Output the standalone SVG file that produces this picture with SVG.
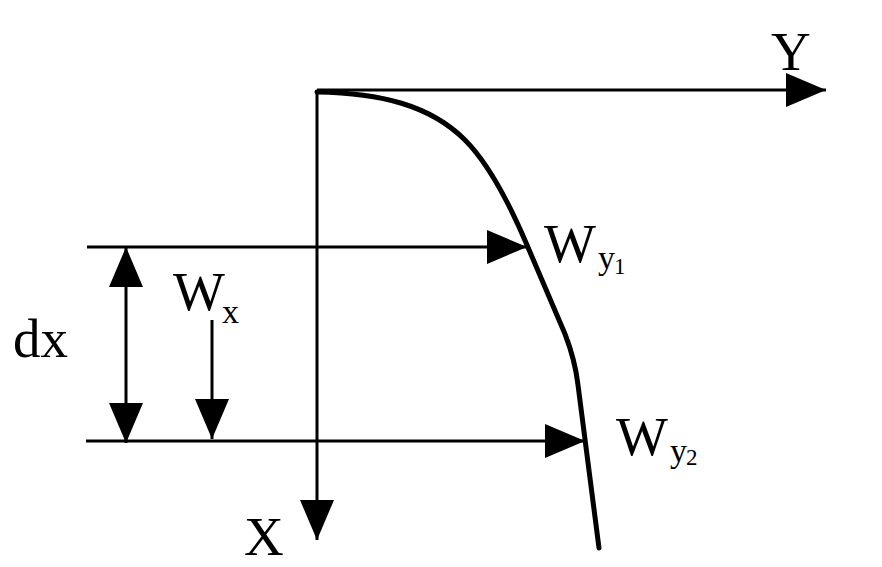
<svg xmlns="http://www.w3.org/2000/svg" width="882" height="567" viewBox="0 0 882 567">
<style>
.ln{stroke:#000;stroke-width:3;fill:none}
.cv{stroke:#000;stroke-width:5;fill:none;stroke-linecap:round;stroke-linejoin:round}
.t{font-family:"Liberation Serif","Times New Roman",serif;fill:#000}
.big{font-size:55px}
.sub{font-size:34px}
.sub2{font-size:23px}
</style>
<defs>
<marker id="ah" markerUnits="userSpaceOnUse" markerWidth="40" markerHeight="34" refX="40" refY="17" orient="auto-start-reverse" viewBox="0 0 40 34">
<path d="M0,0 L40,17 L0,34 Z" fill="#000"/>
</marker>
</defs>
<rect width="882" height="567" fill="#fff"/>
<g id="connectors">
<line class="ln" x1="317" y1="90" x2="826" y2="90" marker-end="url(#ah)"/>
<line class="ln" x1="317" y1="90" x2="317" y2="540" marker-end="url(#ah)"/>
<line class="ln" x1="87" y1="247" x2="527" y2="247" marker-end="url(#ah)"/>
<line class="ln" x1="86" y1="441" x2="585" y2="441" marker-end="url(#ah)"/>
<line class="ln" x1="126" y1="247" x2="126" y2="443" marker-start="url(#ah)" marker-end="url(#ah)"/>
<line class="ln" x1="212" y1="320" x2="212" y2="439" marker-end="url(#ah)"/>
</g>
<g id="curve">
<path class="cv" d="M317,92 C380,93 430,105 465,140 C490,165 510,205 527,245 L565,334 C572,352 576,368 578,385 L599,548"/>
</g>
<g id="label-Y"><text class="t big" x="771" y="70">Y</text></g>
<g id="label-X"><text class="t big" x="244" y="555">X</text></g>
<g id="label-dx"><text class="t big" x="13" y="357">dx</text></g>
<g id="label-Wx"><text class="t big" x="173" y="310">W</text><text class="t sub" x="222" y="323">x</text></g>
<g id="label-Wy1"><text class="t big" x="544" y="262">W</text><text class="t sub" x="598" y="269">y</text><text class="t sub2" x="614" y="274">1</text></g>
<g id="label-Wy2"><text class="t big" x="616" y="455">W</text><text class="t sub" x="670" y="462">y</text><text class="t sub2" x="686" y="465">2</text></g>
</svg>
